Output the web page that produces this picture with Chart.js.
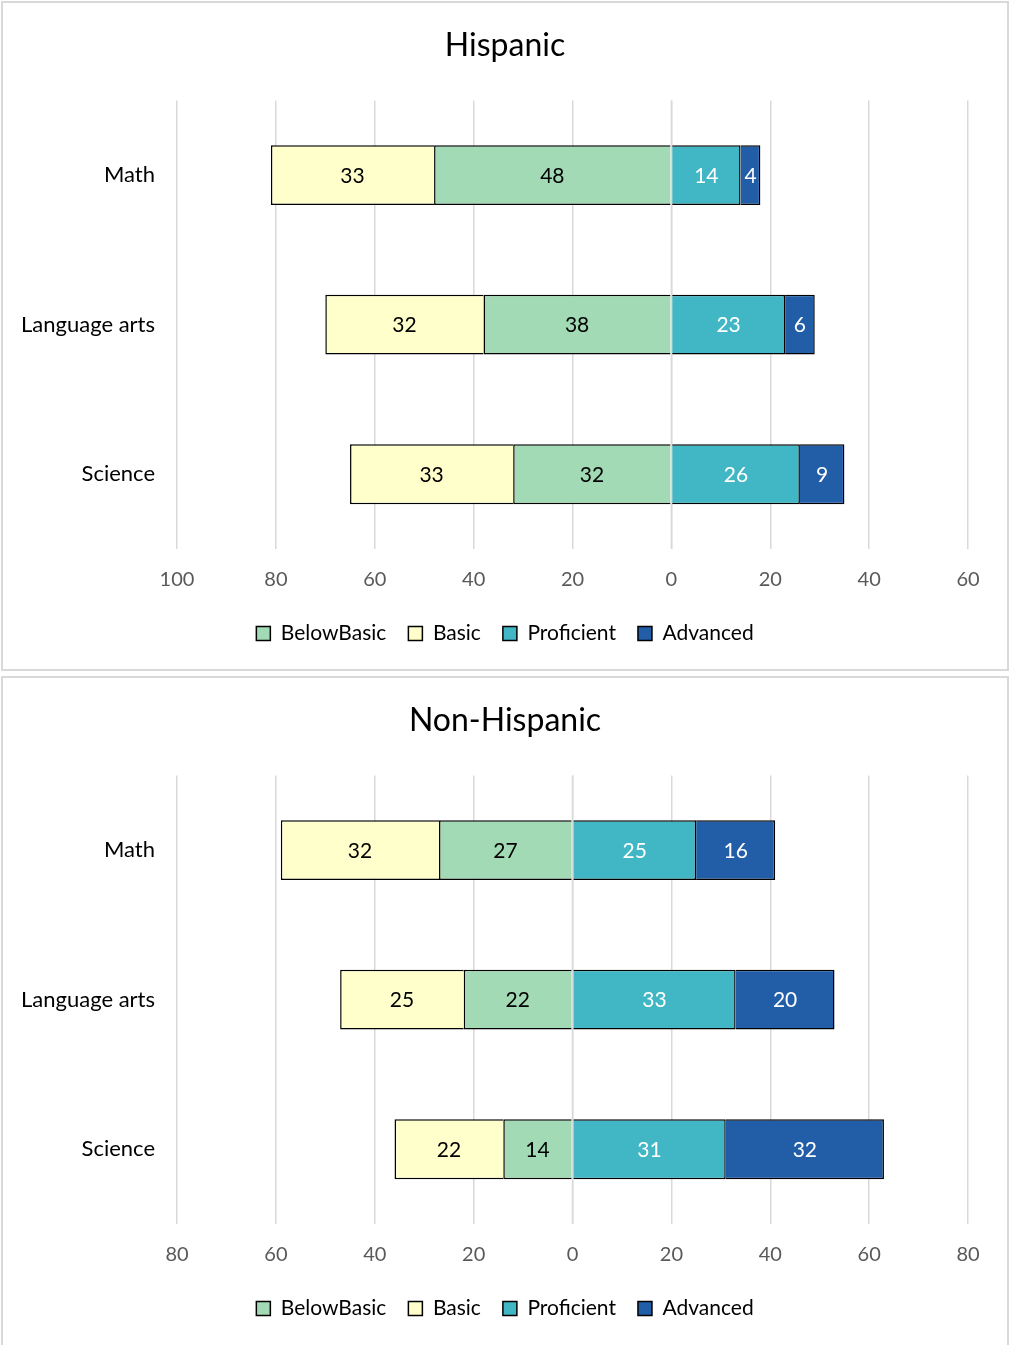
<!DOCTYPE html>
<html>
<head>
<meta charset="utf-8">
<script src="https://cdn.jsdelivr.net/npm/chart.js@4.4.1/dist/chart.umd.min.js"></script>
<style>
  html, body { margin: 0; padding: 0; background: #fff; }
  .panel {
    position: absolute;
    left: 1px;
    width: 1008px;
    box-sizing: border-box;
    border: 2px solid #d9d9d9;
    background: #fff;
  }
  #panel-top { top: 1px; height: 670px; }
  #panel-bottom { top: 676px; height: 672px; }
  .panel canvas { display: block; }
</style>
</head>
<body>
<div class="panel" id="panel-top"><canvas id="chart-hispanic" width="1004" height="666"></canvas></div>
<div class="panel" id="panel-bottom"><canvas id="chart-nonhispanic" width="1004" height="666"></canvas></div>
<script>
const subjects = ['Math', 'Language arts', 'Science'];
const levels = ['BelowBasic', 'Basic', 'Proficient', 'Advanced'];

// percent of students per level, order: Math, Language arts, Science
const hispBelowBasic = [48, 38, 32];
const hispBasic = [33, 32, 33];
const hispProficient = [14, 23, 26];
const hispAdvanced = [4, 6, 9];

const nonHispBelowBasic = [27, 22, 14];
const nonHispBasic = [32, 25, 22];
const nonHispProficient = [25, 33, 31];
const nonHispAdvanced = [16, 20, 32];

const hispRange = [-100, 60];
const nonHispRange = [-80, 80];

const COLORS = {
    belowBasic: '#a1dab4',
    basic: '#ffffcc',
    proficient: '#41b6c4',
    advanced: '#225ea8',
    grid: '#d9d9d9',
    tick: '#595959',
};

const FONT = "Lato, 'Open Sans', sans-serif";

// values printed in the middle of each segment
const segmentLabels = {
    id: 'segmentLabels',
    afterDatasetsDraw(chart) {
        const ctx = chart.ctx;
        ctx.save();
        ctx.font = `21px ${FONT}`;
        ctx.textAlign = 'center';
        ctx.textBaseline = 'middle';
        chart.data.datasets.forEach((ds, i) => {
            const meta = chart.getDatasetMeta(i);
            meta.data.forEach((bar, j) => {
                const p = bar.getCenterPoint();
                ctx.fillStyle = ds.labelColor;
                ctx.fillText(String(Math.abs(ds.data[j])), p.x, p.y + 1);
            });
        });
        ctx.restore();
    }
};

// the zero gridline sits on top of the bars
const zeroLine = {
    id: 'zeroLine',
    afterDatasetsDraw(chart) {
        const ctx = chart.ctx;
        const area = chart.chartArea;
        const x = chart.scales.x.getPixelForValue(0);
        ctx.save();
        ctx.strokeStyle = COLORS.grid;
        ctx.lineWidth = 1.5;
        ctx.beginPath();
        ctx.moveTo(x, area.top);
        ctx.lineTo(x, area.bottom);
        ctx.stroke();
        ctx.restore();
    }
};

const makeDataset = (label, values, color, negative, labelColor) => {
    return {
        label: label,
        data: negative ? values.map(v => -v) : values,
        backgroundColor: color,
        borderColor: '#000',
        borderWidth: 1.5,
        barPercentage: 0.4,
        categoryPercentage: 1,
        labelColor: labelColor,
    };
};

const render_chart = (canvasId, title, range, bb, b, p, a) => {
    return new Chart(document.getElementById(canvasId), {
        type: 'bar',
        data: {
            labels: subjects,
            datasets: [
                makeDataset(levels[0], bb, COLORS.belowBasic, true, '#000'),
                makeDataset(levels[1], b, COLORS.basic, true, '#000'),
                makeDataset(levels[2], p, COLORS.proficient, false, '#fff'),
                makeDataset(levels[3], a, COLORS.advanced, false, '#fff'),
            ]
        },
        plugins: [zeroLine, segmentLabels],
        options: {
            indexAxis: 'y',
            responsive: false,
            animation: false,
            layout: {
                padding: { left: 0, right: 0, top: 0, bottom: 15 }
            },
            scales: {
                x: {
                    stacked: true,
                    min: range[0],
                    max: range[1],
                    grid: {
                        color: COLORS.grid,
                        lineWidth: 1.5,
                        drawTicks: false,
                    },
                    border: { display: false },
                    ticks: {
                        stepSize: 20,
                        padding: 19,
                        color: COLORS.tick,
                        font: { family: FONT, size: 20 },
                        callback: (v) => Math.abs(v),
                    },
                    afterFit: (scale) => { scale.height -= 10; },
                },
                y: {
                    stacked: true,
                    grid: { display: false, drawTicks: false },
                    border: { display: false },
                    ticks: {
                        padding: 22,
                        color: '#000',
                        font: { family: FONT, size: 22 },
                    },
                    afterFit: (scale) => { scale.width = 174; },
                },
                // empty strip on the right so title and legend stay centred on the panel
                yRight: {
                    type: 'category',
                    position: 'right',
                    grid: { display: false, drawTicks: false },
                    border: { display: false },
                    ticks: { display: false },
                    afterFit: (scale) => { scale.width = 39; },
                }
            },
            plugins: {
                title: {
                    display: true,
                    text: title,
                    color: '#000',
                    font: { family: FONT, size: 32, weight: 'normal' },
                    padding: { top: 23, bottom: 36 },
                },
                legend: {
                    position: 'bottom',
                    labels: {
                        color: '#000',
                        boxWidth: 14,
                        boxHeight: 14,
                        padding: 22,
                        font: { family: FONT, size: 21 },
                    }
                },
                tooltip: { enabled: false }
            }
        }
    });
};

render_chart('chart-hispanic', 'Hispanic', hispRange,
    hispBelowBasic, hispBasic, hispProficient, hispAdvanced);
render_chart('chart-nonhispanic', 'Non-Hispanic', nonHispRange,
    nonHispBelowBasic, nonHispBasic, nonHispProficient, nonHispAdvanced);
</script>
</body>
</html>
